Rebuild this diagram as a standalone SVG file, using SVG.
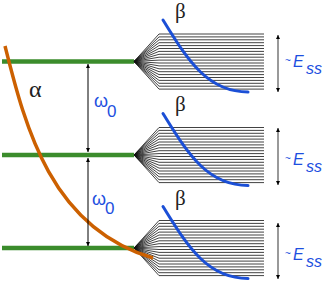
<svg xmlns="http://www.w3.org/2000/svg" width="327" height="281" viewBox="0 0 327 281">
<style>
.lvl{stroke:#3b8c2c;stroke-width:4.5;fill:none}
.fan{stroke:#111;stroke-width:0.8;fill:none}
.beta{stroke:#1b4fd6;stroke-width:3;fill:none;stroke-linecap:round}
.alpha{stroke:#cc6000;stroke-width:3.5;fill:none}
.arr{stroke:#000;stroke-width:1;fill:none;marker-start:url(#ah);marker-end:url(#ah)}
.ess{stroke:#555;stroke-width:1.2;fill:none;marker-start:url(#ah);marker-end:url(#ah)}
.greek{font-family:"Liberation Serif",serif;fill:#222}
.lbl{font-family:"Liberation Sans",sans-serif;fill:#1d4fe0}
</style>
<defs>
<marker id="ah" viewBox="0 0 10 10" refX="10" refY="5" markerWidth="4" markerHeight="7" orient="auto-start-reverse" markerUnits="userSpaceOnUse"><path d="M0,0 L10,5 L0,10 z" fill="#000"/></marker>
<g id="fanshape">
<path class="fan" d="M134,0 L159,-27.5 L264,-27.5 M134,0 L159,-24.6 L264,-24.6 M134,0 L159,-21.7 L264,-21.7 M134,0 L159,-18.8 L264,-18.8 M134,0 L159,-15.9 L264,-15.9 M134,0 L159,-13 L264,-13 M134,0 L159,-10.1 L264,-10.1 M134,0 L159,-7.2 L264,-7.2 M134,0 L159,-4.3 L264,-4.3 M134,0 L159,-1.4 L264,-1.4 M134,0 L159,1.5 L264,1.5 M134,0 L159,4.4 L264,4.4 M134,0 L159,7.3 L264,7.3 M134,0 L159,10.2 L264,10.2 M134,0 L159,13.1 L264,13.1 M134,0 L159,16 L264,16 M134,0 L159,18.9 L264,18.9 M134,0 L159,21.8 L264,21.8 M134,0 L159,24.7 L264,24.7 M134,0 L159,27.6 L264,27.6"/>
<path class="beta" d="M163,-41.5 C185,-6.5 205,30.5 248,30.5"/>
</g>
</defs>
<g id="level1">
<line class="lvl" x1="2" y1="61.5" x2="134" y2="61.5"/>
<use href="#fanshape" y="61.5"/>
<text class="greek" x="175" y="18" font-size="21">β</text>
<line class="ess" x1="278" y1="35" x2="278" y2="92"/>
<text class="lbl" x="285" y="64" font-size="10">~</text>
<text class="lbl" x="293" y="67" font-size="16" font-style="italic">E</text>
<text class="lbl" x="306" y="74" font-size="16" font-style="italic">ss</text>
</g>
<g id="level2">
<line class="lvl" x1="2" y1="155" x2="134" y2="155"/>
<use href="#fanshape" y="155"/>
<text class="greek" x="175" y="111" font-size="21">β</text>
<line class="ess" x1="278" y1="128" x2="278" y2="185"/>
<text class="lbl" x="285" y="162" font-size="10">~</text>
<text class="lbl" x="293" y="165" font-size="16" font-style="italic">E</text>
<text class="lbl" x="306" y="172" font-size="16" font-style="italic">ss</text>
</g>
<g id="level3">
<line class="lvl" x1="2" y1="248" x2="134" y2="248"/>
<use href="#fanshape" y="248"/>
<text class="greek" x="175" y="205" font-size="21">β</text>
<line class="ess" x1="278" y1="223" x2="278" y2="279"/>
<text class="lbl" x="285" y="257" font-size="10">~</text>
<text class="lbl" x="293" y="260" font-size="16" font-style="italic">E</text>
<text class="lbl" x="306" y="267" font-size="16" font-style="italic">ss</text>
</g>
<g id="alpha">
<path class="alpha" d="M5,46 C25,125 50,228 153,258"/>
<text class="greek" x="29" y="97" font-size="24">α</text>
</g>
<g id="connectors">
<line class="arr" x1="88" y1="64" x2="88" y2="152"/>
<line class="arr" x1="88" y1="158" x2="88" y2="246"/>
</g>
<g id="labels">
<text class="lbl" x="94" y="107" font-size="18">ω</text>
<text class="lbl" x="107" y="117" font-size="17">0</text>
<text class="lbl" x="92" y="205" font-size="18">ω</text>
<text class="lbl" x="105" y="214" font-size="17">0</text>
</g>
</svg>
